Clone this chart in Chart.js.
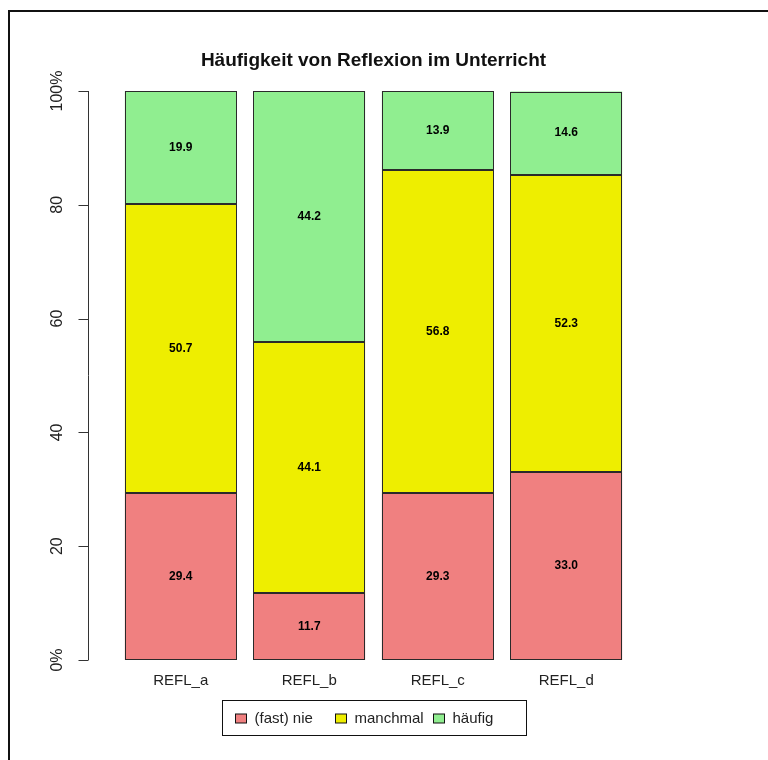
<!DOCTYPE html>
<html>
<head>
<meta charset="utf-8">
<script src="https://cdn.jsdelivr.net/npm/chart.js@4"></script>
<style>
  body { margin: 0; background: #fff; }
  canvas { display: block; }
</style>
</head>
<body>
<canvas id="canvasReflexion" width="768" height="760"></canvas>
<script>
// daten (prozent)
var kategorien = ["REFL_a", "REFL_b", "REFL_c", "REFL_d"];
var serien = ["(fast) nie", "manchmal", "häufig"];
var nie = [29.4, 11.7, 29.3, 33.0];
var manchmal = [50.7, 44.1, 56.8, 52.3];
var haeufig = [19.9, 44.2, 13.9, 14.6];
var yTicks = [0, 20, 40, 60, 80, 100];
var yTickLabels = ["0%", "20", "40", "60", "80", "100%"];

var farben = ["#F08080", "#EEEE00", "#90EE90"];
var schrift = "'Liberation Sans', Arial, sans-serif";

// rahmen, y-achse, werte in den balken, legende
var extras = {
  id: "extras",
  beforeDraw: function (chart) {
    var c = chart.ctx;
    c.save();
    c.fillStyle = "#fff";
    c.fillRect(0, 0, chart.width, chart.height);
    c.strokeStyle = "#111";
    c.lineWidth = 2;
    c.beginPath();
    c.moveTo(chart.width, 11);
    c.lineTo(9, 11);
    c.lineTo(9, chart.height);
    c.stroke();
    c.restore();
  },
  afterDatasetsDraw: function (chart) {
    // scharfe raender um jedes segment
    var c = chart.ctx;
    c.save();
    c.strokeStyle = "#2a2a2a";
    c.lineWidth = 1;
    chart.data.datasets.forEach(function (ds, di) {
      chart.getDatasetMeta(di).data.forEach(function (bar) {
        var x0 = Math.round(bar.x - bar.width / 2) + 0.5;
        var x1 = Math.round(bar.x + bar.width / 2) - 0.5;
        var y0 = Math.round(bar.y) + 0.5;
        var y1 = Math.round(bar.base) - 0.5;
        c.strokeRect(x0, y0, x1 - x0, y1 - y0);
      });
    });
    c.restore();
  },
  afterDraw: function (chart) {
    var c = chart.ctx;
    var y = chart.scales.y;
    c.save();

    // y-achse
    var ax = 88.5;
    c.strokeStyle = "#333";
    c.lineWidth = 1;
    c.beginPath();
    c.moveTo(ax, y.getPixelForValue(yTicks[0]));
    c.lineTo(ax, y.getPixelForValue(yTicks[yTicks.length - 1]));
    for (var i = 0; i < yTicks.length; i++) {
      var py = Math.round(y.getPixelForValue(yTicks[i])) + 0.5;
      c.moveTo(ax, py);
      c.lineTo(ax - 10, py);
    }
    c.stroke();
    c.fillStyle = "#222";
    c.font = "16px " + schrift;
    c.textAlign = "center";
    c.textBaseline = "middle";
    for (var i = 0; i < yTicks.length; i++) {
      c.save();
      c.translate(58, y.getPixelForValue(yTicks[i]));
      c.rotate(-Math.PI / 2);
      c.fillText(yTickLabels[i], 0, 0);
      c.restore();
    }

    // werte in den segmenten
    c.font = "bold 12px " + schrift;
    c.fillStyle = "#000";
    chart.data.datasets.forEach(function (ds, di) {
      var meta = chart.getDatasetMeta(di);
      meta.data.forEach(function (bar, bi) {
        var p = bar.getCenterPoint();
        c.fillText(ds.data[bi].toFixed(1), p.x, p.y);
      });
    });

    // legende
    var mitte = (chart.chartArea.left + chart.chartArea.right) / 2;
    var lb = { x: Math.round(mitte - 152) + 0.5, y: 700.5, w: 304, h: 35 };
    c.strokeStyle = "#111";
    c.lineWidth = 1;
    c.strokeRect(lb.x, lb.y, lb.w, lb.h);
    var versatz = [13, 113, 211];
    c.font = "15px " + schrift;
    c.textAlign = "left";
    chart.data.datasets.forEach(function (ds, di) {
      var sx = lb.x + versatz[di];
      c.fillStyle = ds.backgroundColor;
      c.fillRect(sx, 714, 11, 9);
      c.strokeStyle = "#111";
      c.strokeRect(sx, 714, 11, 9);
      c.fillStyle = "#222";
      c.fillText(ds.label, sx + 19, 719);
    });
    c.restore();
  }
};

var datensaetze = [nie, manchmal, haeufig].map(function (werte, i) {
  return {
    label: serien[i],
    data: werte,
    backgroundColor: farben[i],
    borderWidth: 0,
    categoryPercentage: 1,
    barPercentage: 0.87
  };
});

var ctx = document.getElementById("canvasReflexion").getContext("2d");
new Chart(ctx, {
  type: "bar",
  data: { labels: kategorien, datasets: datensaetze },
  options: {
    responsive: false,
    animation: false,
    devicePixelRatio: 1,
    layout: { padding: { left: 116.5, right: 137.5, top: 49, bottom: 0 } },
    plugins: {
      legend: { display: false },
      tooltip: { enabled: false },
      title: {
        display: true,
        text: "Häufigkeit von Reflexion im Unterricht",
        color: "#111",
        font: { family: schrift, size: 19, weight: "bold", lineHeight: 1.2 },
        padding: { top: 0, bottom: 19.2 }
      }
    },
    scales: {
      x: {
        stacked: true,
        grid: { display: false, drawTicks: false },
        border: { display: false },
        ticks: { color: "#222", font: { family: schrift, size: 15 }, padding: 12 },
        afterFit: function (s) { s.height = 100; }
      },
      y: {
        stacked: true,
        display: false,
        min: 0,
        max: 100
      }
    }
  },
  plugins: [extras]
});
</script>
</body>
</html>
